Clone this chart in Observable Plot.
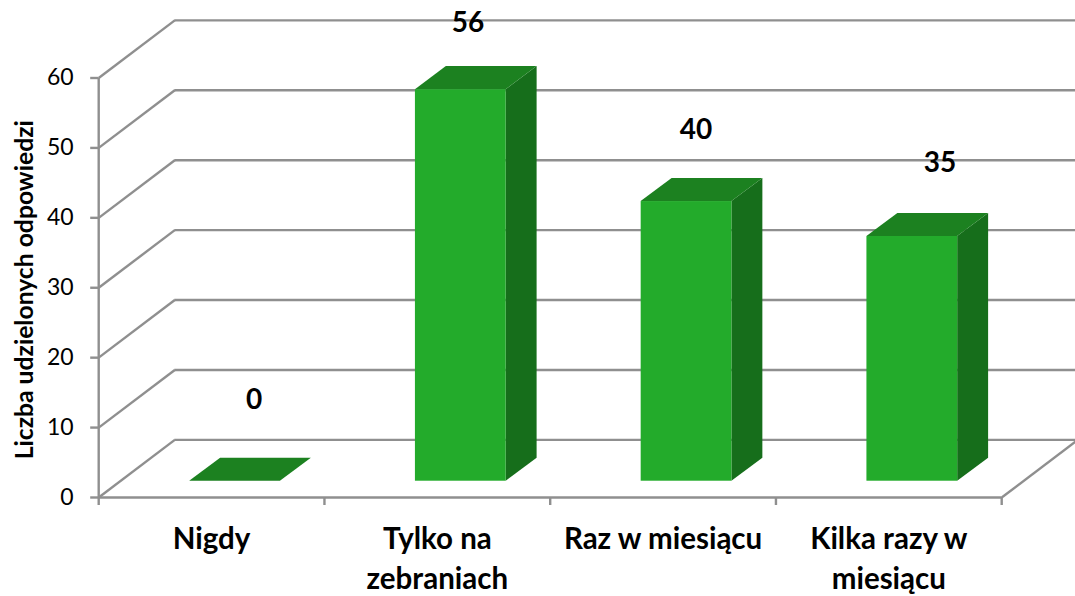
<!DOCTYPE html>
<html>
<head>
<meta charset="utf-8">
<script src="https://cdn.jsdelivr.net/npm/d3@7"></script>
<script src="https://cdn.jsdelivr.net/npm/@observablehq/plot@0.6"></script>
<style>
html,body{margin:0;padding:0;background:#fff}
svg{display:block}
</style>
</head>
<body>
<div id="chart"></div>
<script>
const categories = ["Nigdy", "Tylko na\nzebraniach", "Raz w miesiącu", "Kilka razy w\nmiesiącu"];
const values = [0, 56, 40, 35];
const yTicks = [0, 10, 20, 30, 40, 50, 60];
const yTitle = "Liczba udzielonych odpowiedzi";
// hand-placed data labels of the original, in data units
const labelX = [0.688, 1.636, 2.646, 3.727];
const labelY = [13.9, 67.9, 52.6, 47.8];

const FONT = "Lato, 'Open Sans', sans-serif";
const GRID = "#8f8f8f";
const FRONT = "#23ab2b", TOP = "#1c8120", SIDE = "#166e1b";
// pseudo-3D depth in scale units
const wallX = 0.337, wallY = 8.24, depthX = 0.137, depthY = 3.3, baseY = 2.33;
const barStart = 0.403, barEnd = 0.805;

const bars = values.map((v, i) => ({i, v, x1: i + barStart, x2: i + barEnd, y1: baseY, y2: baseY + v}));
const sideFaces = bars.flatMap(b => [
  {i: b.i, x: b.x2, y1: b.y1, y2: b.y2},
  {i: b.i, x: b.x2 + depthX, y1: b.y1 + depthY, y2: b.y2 + depthY}
]);
const topFaces = bars.flatMap(b => [
  {i: b.i, y: b.y2, x1: b.x1, x2: b.x2},
  {i: b.i, y: b.y2 + depthY, x1: b.x1 + depthX, x2: b.x2 + depthX}
]);
const line = {stroke: GRID, strokeWidth: 2.4};

const chart = Plot.plot({
  width: 1075, height: 596,
  marginLeft: 98.2, marginRight: 73.8, marginTop: 77.5, marginBottom: 99,
  style: {background: "#fff", fontFamily: FONT, overflow: "visible"},
  x: {domain: [0, 4]},
  y: {domain: [0, 60]},
  marks: [
    // back wall, side wall, floor
    Plot.ruleY(yTicks, {y: t => t + wallY, x1: wallX, x2: 4 + wallX, ...line}),
    Plot.link(yTicks, {x1: 0, y1: t => t, x2: wallX, y2: t => t + wallY, ...line}),
    Plot.link([0], {x1: 4, y1: 0, x2: 4 + wallX, y2: wallY, ...line}),
    Plot.ruleY([0], {x1: 0, x2: 4, ...line}),
    Plot.ruleX([0], {y1: 0, y2: 60, ...line}),
    // axes
    Plot.axisX({ticks: [0, 1, 2, 3, 4], tickFormat: null, text: null, tickSize: 8, stroke: GRID, strokeWidth: 2.4}),
    Plot.axisY({ticks: yTicks, tickSize: 8, tickPadding: 17, stroke: GRID, strokeWidth: 2.4, label: null, fontSize: 23, fill: "#000", color: "#000"}),
    Plot.text(categories, {
      x: (d, i) => i + 0.5, frameAnchor: "bottom", lineAnchor: "top", dy: 23,
      text: d => d, fontSize: 29.5, fontWeight: 700, fill: "#000", lineHeight: 1.36
    }),
    Plot.text([yTitle], {frameAnchor: "left", textAnchor: "middle", dx: -74, dy: 2, rotate: -90, fontSize: 24.7, fontWeight: 700, fill: "#000"}),
    // bars
    Plot.areaY(sideFaces, {x: "x", y1: "y1", y2: "y2", z: "i", fill: SIDE}),
    Plot.areaX(topFaces, {y: "y", x1: "x1", x2: "x2", z: "i", fill: TOP}),
    Plot.rectY(bars.filter(b => b.v > 0), {x1: "x1", x2: "x2", y1: "y1", y2: "y2", fill: FRONT}),
    // data labels
    Plot.text(values, {x: (d, i) => labelX[i], y: (d, i) => labelY[i], text: d => String(d), fontSize: 28, fontWeight: 700, fill: "#000"})
  ]
});
document.getElementById("chart").append(chart);
</script>
</body>
</html>
